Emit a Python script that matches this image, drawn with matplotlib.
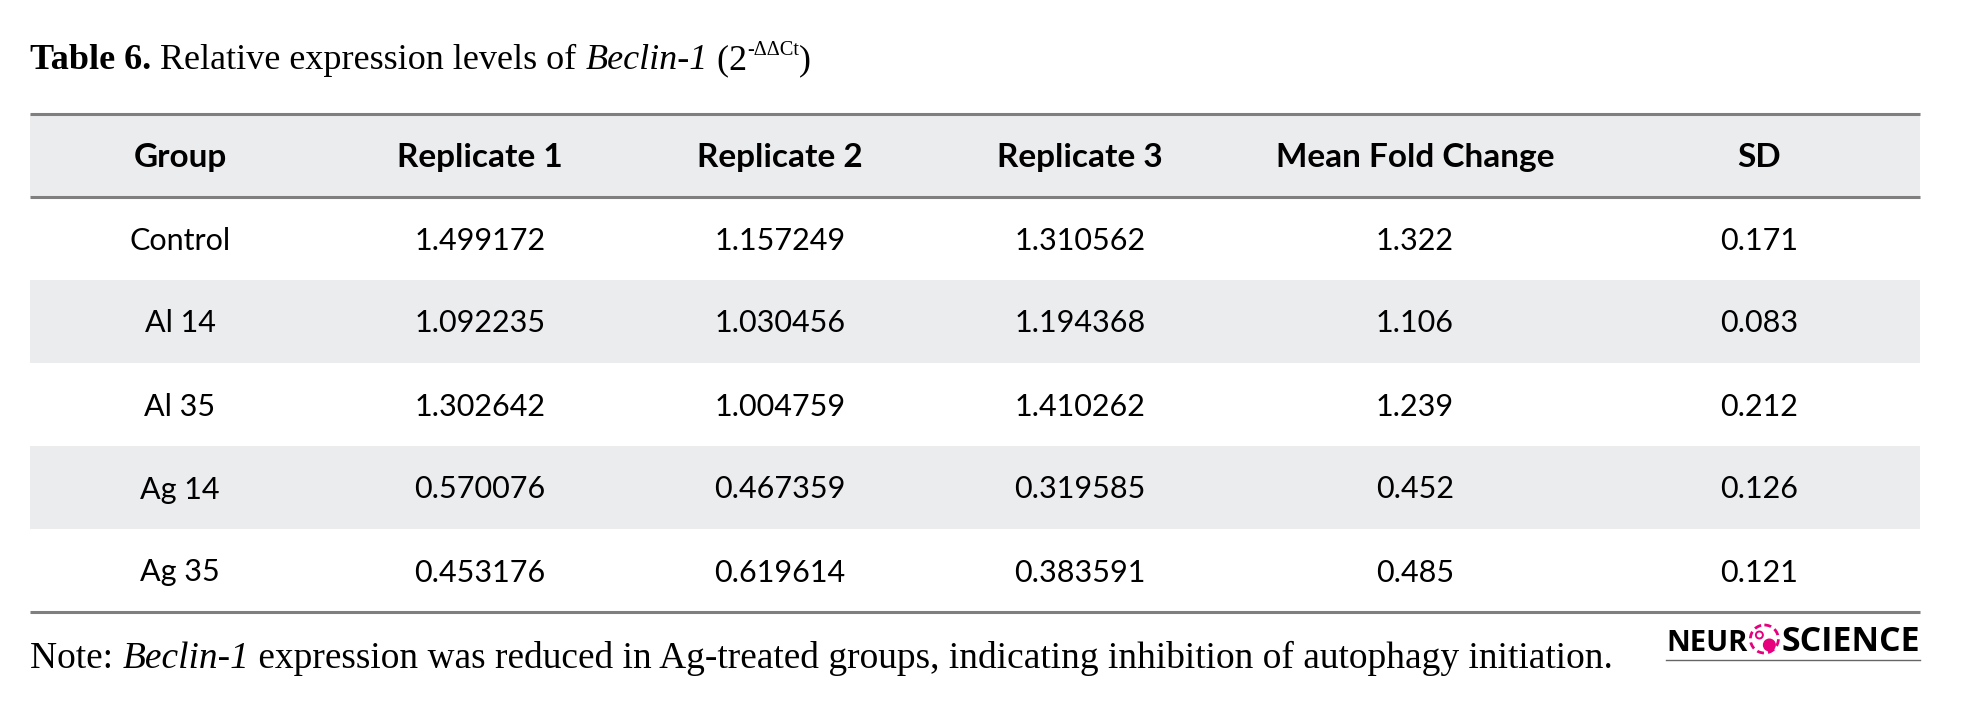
import matplotlib
matplotlib.use('Agg')
import matplotlib.pyplot as plt
from matplotlib.patches import Rectangle, Circle

# table content
headers = ['Group', 'Replicate 1', 'Replicate 2', 'Replicate 3', 'Mean Fold Change', 'SD']
groups = ['Control', 'Al 14', 'Al 35', 'Ag 14', 'Ag 35']
rep1 = ['1.499172', '1.092235', '1.302642', '0.570076', '0.453176']
rep2 = ['1.157249', '1.030456', '1.004759', '0.467359', '0.619614']
rep3 = ['1.310562', '1.194368', '1.410262', '0.319585', '0.383591']
mean_fc = ['1.322', '1.106', '1.239', '0.452', '0.485']
sd = ['0.171', '0.083', '0.212', '0.126', '0.121']

W, H = 1969, 703
fig = plt.figure(figsize=(W / 100, H / 100), dpi=100)
ax = fig.add_axes([0, 0, 1, 1])
ax.set_xlim(0, W)
ax.set_ylim(H, 0)
ax.axis('off')

serif = ['Liberation Serif', 'DejaVu Serif']
sans = ['Lato', 'DejaVu Sans']
logo_font = ['Open Sans', 'DejaVu Sans']

left, right = 30, 1920
top = 114
head_h = 83
row_h = 83
band = '#ebecee'
rule = '#7f7f7f'
col_x = [180, 480, 780, 1080, 1415, 1759]

# header band
ax.add_patch(Rectangle((left, top), right - left, head_h, color=band, lw=0, zorder=0))
for x, h in zip(col_x, headers):
    ax.text(x, top + head_h / 2 + 2, h, ha='center', va='center', fontsize=24,
            fontweight='bold', family=sans)

columns = [groups, rep1, rep2, rep3, mean_fc, sd]
y0 = top + head_h
for i in range(len(groups)):
    ry = y0 + i * row_h
    if i % 2 == 1:
        ax.add_patch(Rectangle((left, ry), right - left, row_h, color=band, lw=0, zorder=0))
    for x, col in zip(col_x, columns):
        ax.text(x, ry + row_h / 2 + 2, col[i], ha='center', va='center', fontsize=22,
                family=sans)

bottom = y0 + len(groups) * row_h
for y in (top, top + head_h, bottom):
    ax.plot([left, right], [y, y], color=rule, lw=2.2, solid_capstyle='butt', zorder=3)

fig.canvas.draw()
renderer = fig.canvas.get_renderer()


def write_run(x, y, parts, width=None):
    # parts: (text, size, kwargs) drawn one after another on one baseline;
    # with width given, sizes are scaled so the run spans that many pixels
    scale = 1.0
    if width is not None:
        total = 0
        for txt, size, kw in parts:
            kw = {k: v for k, v in kw.items() if k != 'dy'}
            t = ax.text(0, 0, txt, fontsize=size, **kw)
            total += t.get_window_extent(renderer=renderer).width
            t.remove()
        scale = width / total
    for txt, size, kw in parts:
        kw = dict(kw)
        dy = kw.pop('dy', 0) * scale
        t = ax.text(x, y + dy, txt, ha='left', va='baseline', fontsize=size * scale, **kw)
        x += t.get_window_extent(renderer=renderer).width
    return x


write_run(left, 69, [
    ('Table 6.', 23, dict(fontweight='bold', family=serif)),
    (' Relative expression levels of ', 23, dict(family=serif)),
    ('Beclin-1', 23, dict(style='italic', family=serif)),
    (' (2', 23, dict(family=serif)),
    ('-ΔΔCt', 13, dict(family=serif, dy=-12)),
    (')', 23, dict(family=serif)),
], width=782)

write_run(left, 668, [
    ('Note: ', 23, dict(family=serif)),
    ('Beclin-1', 23, dict(style='italic', family=serif)),
    (' expression was reduced in Ag-treated groups, indicating inhibition of autophagy initiation.',
     23, dict(family=serif)),
], width=1588)

# journal logo
logo_x0, logo_x1 = 1666, 1920
logo_y = 651
pink = '#e6007e'
x = write_run(logo_x0, logo_y, [('NEUR', 21, dict(fontweight='bold', family=logo_font))])
cx = x + 17
ax.add_patch(Circle((cx, logo_y - 12), 14, fill=False, ec=pink, lw=2.0, ls=(0, (2.5, 1.5))))
ax.add_patch(Circle((cx + 5, logo_y - 6), 6.5, color=pink, lw=0))
ax.add_patch(Circle((cx - 5, logo_y - 16), 3.5, fill=False, ec=pink, lw=1.4))
write_run(cx + 17, logo_y, [('SCIENCE', 21, dict(fontweight='bold', family=logo_font))],
          width=logo_x1 - (cx + 17))
ax.plot([logo_x0, logo_x1], [logo_y + 9, logo_y + 9], color='#666666', lw=1)

plt.savefig('out.png', dpi=100)
